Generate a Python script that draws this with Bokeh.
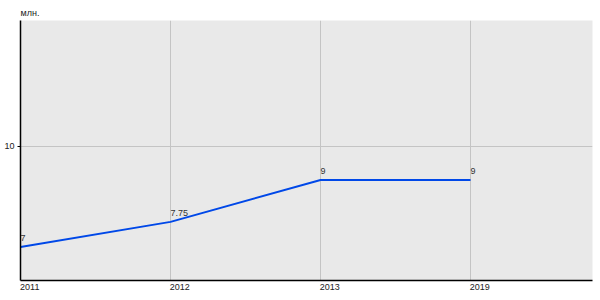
from bokeh.plotting import figure
from bokeh.models import ColumnDataSource, FixedTicker, Range1d
from bokeh.core.properties import value
from bokeh.embed import file_html
from bokeh.resources import INLINE

years = ["2011", "2012", "2013", "2019"]
values = [7, 7.75, 9, 9]
value_labels = ["7", "7.75", "9", "9"]
y_unit = "млн."

xs = list(range(len(years)))
src = ColumnDataSource(dict(x=xs, y=values, lab=value_labels))

font = "Liberation Sans"

p = figure(width=600, height=300, output_backend="svg", toolbar_location=None,
           x_range=Range1d(0, 3.813), y_range=Range1d(6.0, 13.76),
           min_border_left=20, min_border_right=8, min_border_top=20, min_border_bottom=20,
           title=y_unit)
p.background_fill_color = "#e9e9e9"
p.border_fill_color = "white"
p.outline_line_color = None

p.title.text_font = font
p.title.text_font_size = "9px"
p.title.text_font_style = "normal"
p.title.text_color = "#222222"
p.title.offset = 0
p.title.standoff = 5

# x axis: labels shifted so they start at the gridline
p.xaxis.ticker = FixedTicker(ticks=[i + 0.062 for i in xs])
p.xaxis.major_label_overrides = {i + 0.062: y for i, y in zip(xs, years)}
p.xaxis.major_tick_line_color = None
p.xaxis.minor_tick_line_color = None
p.xaxis.axis_line_color = "black"
p.xaxis.axis_line_width = 1.5
p.xaxis.major_label_text_font = font
p.xaxis.major_label_text_font_size = "9px"
p.xaxis.major_label_text_color = "#222222"
p.xaxis.major_label_standoff = -3

p.yaxis.ticker = FixedTicker(ticks=[10])
p.yaxis.major_tick_out = 3
p.yaxis.major_tick_in = 0
p.yaxis.minor_tick_line_color = None
p.yaxis.axis_line_color = "black"
p.yaxis.axis_line_width = 1.5
p.yaxis.major_label_text_font = font
p.yaxis.major_label_text_font_size = "9px"
p.yaxis.major_label_text_color = "#222222"
p.yaxis.major_label_standoff = 3

p.xgrid.ticker = FixedTicker(ticks=xs)
p.xgrid.grid_line_color = "#c4c4c4"
p.ygrid.ticker = FixedTicker(ticks=[10])
p.ygrid.grid_line_color = "#c4c4c4"

p.line("x", "y", source=src, line_color="#0048e8", line_width=2)
p.text("x", "y", text="lab", source=src, text_font_size="9px",
       text_color="#333333", text_align="left", text_baseline="bottom",
       y_offset=-6, x_offset=0, text_font=value(font))

open("out.html", "w").write(file_html(p, INLINE))
